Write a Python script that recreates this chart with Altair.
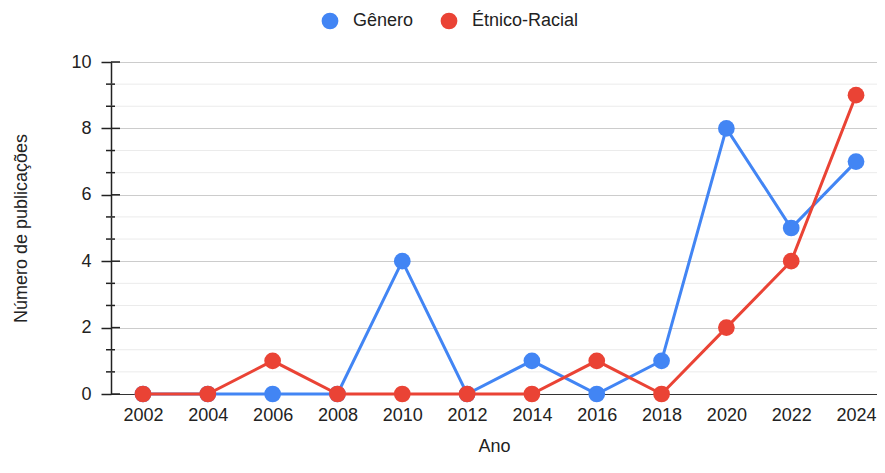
import altair as alt
import pandas as pd

anos = [2002, 2004, 2006, 2008, 2010, 2012, 2014, 2016, 2018, 2020, 2022, 2024]
genero = [0, 0, 0, 0, 4, 0, 1, 0, 1, 8, 5, 7]
etnico = [0, 0, 1, 0, 0, 0, 0, 1, 0, 2, 4, 9]
series = ["Gênero", "Étnico-Racial"]
cores = ["#4285F4", "#EA4335"]
y_major = [0, 2, 4, 6, 8, 10]
y_minor = [round(i * 2 / 3, 4) for i in range(16) if i % 3 != 0]

rows = []
for a, g in zip(anos, genero):
    rows.append({"Ano": a, "Valor": g, "Série": series[0]})
for a, e in zip(anos, etnico):
    rows.append({"Ano": a, "Valor": e, "Série": series[1]})
df = pd.DataFrame(rows)
minor_df = pd.DataFrame({"v": y_minor})
major_df = pd.DataFrame({"v": y_major})

FONT = "Liberation Sans"
TXT = "#222222"
W, H = 766, 332

x = alt.X("Ano:Q", title="Ano",
          scale=alt.Scale(domain=[2001.013, 2024.647], nice=False, zero=False),
          axis=alt.Axis(values=anos, format="d", ticks=False, grid=False,
                        domainColor="#333333", domainWidth=1.2,
                        labelFontSize=18, labelColor=TXT, labelPadding=12,
                        titleFontSize=18, titleFontWeight="normal", titleColor=TXT,
                        titlePadding=13, labelFont=FONT, titleFont=FONT))

yscale = alt.Scale(domain=[0, 10], nice=False)
y = alt.Y("Valor:Q", title="Número de publicações", scale=yscale,
          axis=alt.Axis(values=y_major, format="d", grid=True, gridColor="#cccccc",
                        tickSize=10, tickColor=TXT, tickWidth=1.5,
                        domainColor=TXT, domainWidth=1.5,
                        labelFontSize=18, labelColor=TXT, labelPadding=10,
                        titleFontSize=18, titleFontWeight="normal", titleColor=TXT,
                        titlePadding=40, labelFont=FONT, titleFont=FONT))

color = alt.Color("Série:N", scale=alt.Scale(domain=series, range=cores),
                  legend=alt.Legend(title=None, orient="none", legendX=210, legendY=-50,
                                    direction="horizontal", symbolType="circle",
                                    symbolSize=280, symbolStrokeWidth=0,
                                    labelFontSize=18, labelFont=FONT, labelColor=TXT,
                                    columnPadding=26, labelOffset=14))

minor_grid = alt.Chart(minor_df).mark_rule(color="#ebebeb", strokeWidth=1).encode(
    y=alt.Y("v:Q", scale=yscale), x=alt.value(0), x2=alt.value(W))
minor_ticks = alt.Chart(minor_df).mark_rule(color=TXT, strokeWidth=1.5).encode(
    y=alt.Y("v:Q", scale=yscale), x=alt.value(-5), x2=alt.value(4))
major_ticks_in = alt.Chart(major_df).mark_rule(color=TXT, strokeWidth=1.5).encode(
    y=alt.Y("v:Q", scale=yscale), x=alt.value(0), x2=alt.value(9))

layers = [minor_grid, minor_ticks, major_ticks_in]
for s in series:
    sub = alt.Chart(df[df["Série"] == s]).encode(x=x, y=y, color=color)
    layers.append(sub.mark_line(strokeWidth=3))
    layers.append(sub.mark_circle(size=280, opacity=1))

chart = alt.layer(*layers).properties(
    width=W, height=H,
    autosize=alt.AutoSizeParams(type="none"),
    padding={"left": 103, "top": 54, "right": 0, "bottom": 63},
).configure_view(stroke=None, clip=False).configure(font=FONT)

chart.save("out.html", embed_options={"renderer": "svg", "actions": False})
